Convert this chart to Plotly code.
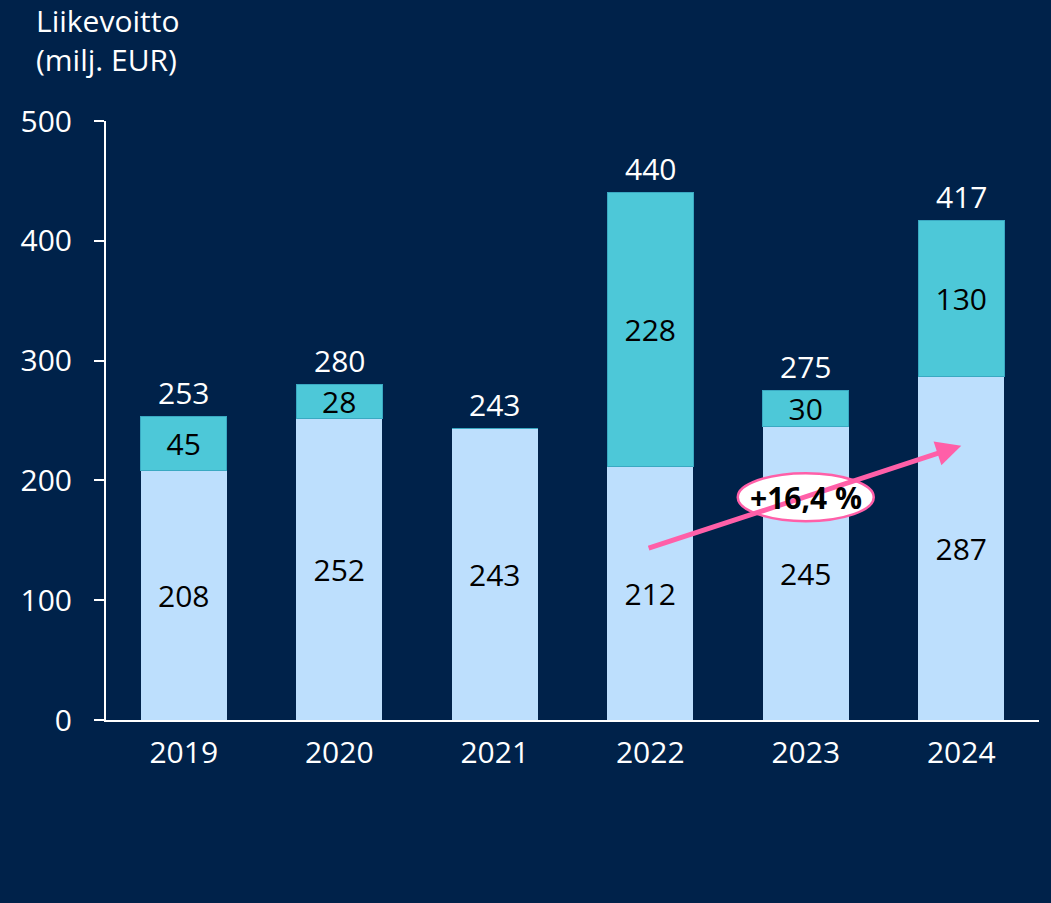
import plotly.graph_objects as go

years = ["2019", "2020", "2021", "2022", "2023", "2024"]
base_vals = [208, 252, 243, 212, 245, 287]
extra_vals = [45, 28, 0, 228, 30, 130]
totals = [253, 280, 243, 440, 275, 417]
extra_text = ["45", "28", "", "228", "30", "130"]
growth_label = "+16,4 %"

BG = "#00224A"
LIGHT = "#BDDFFD"
CYAN = "#4DC8D8"
PINK = "#FF5FA8"
FONT = "Open Sans"
FS = 30

fig = go.Figure()
fig.add_trace(go.Bar(
    x=years, y=base_vals, marker=dict(color=LIGHT, line=dict(width=0)),
    text=[str(v) for v in base_vals], textposition="inside", insidetextanchor="middle",
    textangle=0, textfont=dict(color="black", size=FS, family=FONT), hoverinfo="skip"))
fig.add_trace(go.Bar(
    x=years, y=extra_vals, marker=dict(color=CYAN, line=dict(color="#3AA9C2", width=1)),
    text=extra_text, textposition="inside", insidetextanchor="middle",
    textangle=0, textfont=dict(color="black", size=FS, family=FONT), hoverinfo="skip"))

fig.update_layout(
    width=1051, height=903,
    barmode="stack", bargap=0.447,
    paper_bgcolor=BG, plot_bgcolor=BG,
    showlegend=False,
    margin=dict(l=106, r=12, t=121, b=183),
    font=dict(family=FONT, size=FS, color="white"),
    uniformtext=dict(minsize=FS, mode="show"),
    xaxis=dict(type="category", range=[-0.5, len(years) - 0.5], showgrid=False,
               showline=True, linecolor="white",
               linewidth=2, ticks="", ticklabelstandoff=5,
               tickfont=dict(size=FS, color="white", family=FONT), zeroline=False),
    yaxis=dict(range=[0, 500], tickvals=[0, 100, 200, 300, 400, 500], showgrid=False,
               showline=True, linecolor="white", linewidth=2, ticks="outside",
               ticklen=10, tickwidth=2, tickcolor="white", ticklabelstandoff=16,
               tickfont=dict(size=FS, color="white", family=FONT), zeroline=False),
)

# Totals above bars (category index positions)
for i, tot in enumerate(totals):
    fig.add_annotation(x=i, y=tot, xref="x", yref="y", text=str(tot), showarrow=False,
                       yanchor="middle", yshift=24,
                       font=dict(size=FS, color="white", family=FONT))

# Title
fig.add_annotation(xref="paper", yref="paper", x=-0.077, y=1.205, xanchor="left", yanchor="top",
                   text="Liikevoitto<br>(milj. EUR)", showarrow=False, align="left",
                   font=dict(size=FS, color="white", family=FONT))

# Growth arrow from 2022 to 2024 (category indices 3 -> 5)
fig.add_annotation(x=5, y=229, ax=2.98, ay=143, xref="x", yref="y", axref="x", ayref="y",
                   text="", showarrow=True, arrowhead=2, arrowsize=1, arrowwidth=5,
                   arrowcolor=PINK)

# Ellipse label over 2023 (index 4)
fig.add_shape(type="circle", xref="x", yref="y", xsizemode="pixel", ysizemode="pixel",
              xanchor=4, yanchor=186, x0=-68, x1=68, y0=-24, y1=24,
              fillcolor="white", line=dict(color=PINK, width=2.5), layer="above")
fig.add_annotation(x=4, y=186, xref="x", yref="y", text="<b>" + growth_label + "</b>",
                   showarrow=False, font=dict(size=FS, color="black", family=FONT))

fig.write_html("out.html", config={"displayModeBar": False},
               post_script="document.body.style.margin='0';document.body.style.background='#00224A';")
